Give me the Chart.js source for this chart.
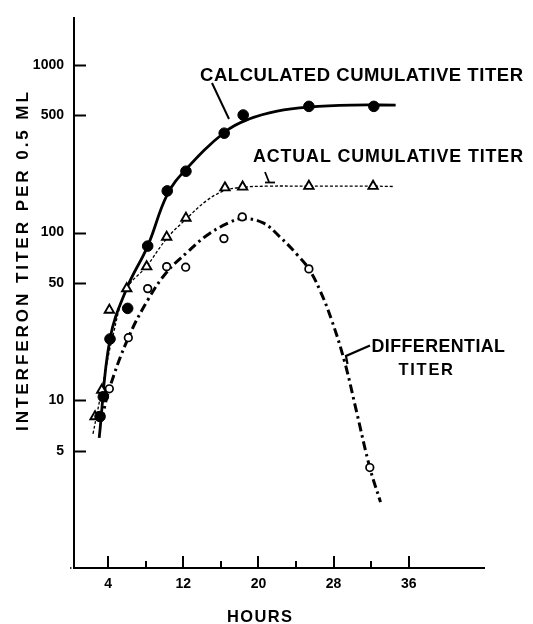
<!DOCTYPE html>
<html>
<head>
<meta charset="utf-8">
<script src="https://cdn.jsdelivr.net/npm/chart.js@4.4.1/dist/chart.umd.min.js"></script>
<style>
  html, body { margin: 0; padding: 0; background: #fff; }
  #wrap { width: 533px; height: 624px; position: relative; }
</style>
</head>
<body>
<div id="wrap"><canvas id="c" width="533" height="624"></canvas></div>
<script>
// ---- Data ----
const calcHours   = [3.15, 3.5, 4.21, 6.09, 8.22, 10.3, 12.29, 16.36, 18.38, 25.37, 32.28];
const calcTiter   = [8.0, 10.5, 23.2, 35.3, 83, 177, 232, 391, 502, 565, 565];
const actualHours = [2.62, 3.33, 4.14, 5.99, 8.11, 10.24, 12.29, 16.44, 18.32, 25.37, 32.2];
const actualTiter = [8.0, 11.5, 34.5, 46.3, 62.6, 94, 122, 185, 187, 189, 189];
const diffHours   = [4.14, 6.16, 8.22, 10.24, 12.26, 16.33, 18.28, 25.37, 31.85];
const diffTiter   = [11.7, 23.6, 46.3, 62.6, 62.1, 92, 124, 60.7, 3.97];

// hand-drawn fitted curves
const calcCurveHours   = [3.06, 4.21, 5.98, 8.22, 10.3, 12.29, 16.5, 19.0, 22.0, 25.4, 30.0, 34.6];
const calcCurveTiter   = [5.96, 23.2, 46.3, 83, 168, 238, 400, 475, 530, 560, 575, 575];
const actualCurveHours = [2.4, 3.33, 4.5, 5.99, 8.11, 10.24, 12.29, 14.5, 16.44, 18.32, 21, 25.37, 32.2, 34.4];
const actualCurveTiter = [6.3, 11.5, 24, 46, 63, 92, 120, 155, 178, 186, 189, 189, 189, 188];
const diffCurveHours   = [3.3, 4.14, 6.16, 8.28, 10.24, 12.4, 14.5, 16.8, 18.28, 20.5, 22.3, 24.1, 25.37, 26.54, 27.78, 29.19, 30.44, 31.85, 32.99];
const diffCurveTiter   = [7.5, 11.7, 23.6, 40, 58, 76, 96, 114, 121, 114, 94, 74, 60.7, 45.3, 30.2, 16.8, 8.55, 3.97, 2.47];

const xMajorTicks = [4, 12, 20, 28, 36];
const xMinorTicks = [8, 16, 24, 32];
const yTicks = [5, 10, 50, 100, 500, 1000];

const xLabel = 'HOURS';
const yLabel = 'INTERFERON TITER PER 0.5 ML';
const calcLabel = 'CALCULATED CUMULATIVE TITER';
const actualLabel = 'ACTUAL CUMULATIVE TITER';
const diffLabel1 = 'DIFFERENTIAL';
const diffLabel2 = 'TITER';

const pts = (xs, ys) => xs.map((x, i) => ({ x: x, y: ys[i] }));
const FONT = '"Liberation Sans", Arial, sans-serif';

// draw text between left/right with cap height capTop..capBottom, spreading letters
function fitText(ctx, text, left, right, capTop, capBottom) {
  const size = (capBottom - capTop) / 0.729;
  ctx.save();
  ctx.font = 'bold ' + size + 'px ' + FONT;
  ctx.textBaseline = 'alphabetic';
  ctx.textAlign = 'left';
  ctx.letterSpacing = '0px';
  const w = ctx.measureText(text).width;
  const n = text.length;
  let ls = (right - left - w) / Math.max(1, n - 1);
  ctx.fillStyle = '#000';
  if (ls >= 0) {
    ctx.letterSpacing = ls + 'px';
    ctx.fillText(text, left, capBottom);
  } else {
    ctx.translate(left, capBottom);
    ctx.scale((right - left) / w, 1);
    ctx.fillText(text, 0, 0);
  }
  ctx.restore();
}

const decor = {
  id: 'decor',
  afterDraw(chart) {
    const ctx = chart.ctx;
    const xs = chart.scales.x, ys = chart.scales.y;
    const ca = chart.chartArea;
    ctx.save();
    ctx.strokeStyle = '#000';
    ctx.lineCap = 'butt';
    // y ticks (inward)
    ctx.lineWidth = 2;
    yTicks.forEach(v => {
      const y = Math.round(ys.getPixelForValue(v)) + 0.5;
      ctx.beginPath(); ctx.moveTo(ca.left, y); ctx.lineTo(ca.left + 12, y); ctx.stroke();
    });
    // x ticks (inward)
    xMajorTicks.forEach(v => {
      const x = Math.round(xs.getPixelForValue(v));
      ctx.beginPath(); ctx.moveTo(x, ca.bottom); ctx.lineTo(x, ca.bottom - 12); ctx.stroke();
    });
    xMinorTicks.forEach(v => {
      const x = Math.round(xs.getPixelForValue(v));
      ctx.beginPath(); ctx.moveTo(x, ca.bottom); ctx.lineTo(x, ca.bottom - 7); ctx.stroke();
    });
    // short stub left of origin
    ctx.lineWidth = 1.5;
    ctx.setLineDash([1.5, 1.5]);
    ctx.beginPath(); ctx.moveTo(ca.left - 4, ca.bottom); ctx.lineTo(ca.left, ca.bottom); ctx.stroke();
    ctx.setLineDash([]);

    // pointer lines
    ctx.lineWidth = 2;
    ctx.beginPath(); ctx.moveTo(212, 83); ctx.lineTo(229, 119); ctx.stroke();
    ctx.lineWidth = 1.8;
    ctx.beginPath(); ctx.moveTo(265, 172); ctx.lineTo(269, 182); ctx.stroke();
    ctx.beginPath(); ctx.moveTo(265, 182.5); ctx.lineTo(275, 182.5); ctx.stroke();
    ctx.lineWidth = 2.2;
    ctx.beginPath(); ctx.moveTo(370, 345.5); ctx.lineTo(346, 356); ctx.lineTo(347.5, 364); ctx.stroke();

    // labels
    fitText(ctx, calcLabel, 200, 523, 67.5, 81);
    fitText(ctx, actualLabel, 253, 523, 148.5, 161.5);
    fitText(ctx, diffLabel1, 371.5, 505, 338.5, 351.5);
    fitText(ctx, diffLabel2, 398.5, 453, 363, 375);
    fitText(ctx, xLabel, 227, 292, 610, 622);
    // y axis title (rotated)
    ctx.save();
    ctx.rotate(-Math.PI / 2);
    fitText(ctx, yLabel, -431, -92, 15, 27.5);
    ctx.restore();
    ctx.restore();
  }
};

new Chart(document.getElementById('c'), {
  type: 'scatter',
  data: {
    datasets: [
      { label: 'calc points', data: pts(calcHours, calcTiter), pointStyle: 'circle', pointRadius: 5.3,
        backgroundColor: '#000', borderColor: '#000', borderWidth: 1, showLine: false, order: 1 },
      { label: 'actual points', data: pts(actualHours, actualTiter), pointStyle: 'triangle', pointRadius: 5.4,
        backgroundColor: '#fff', borderColor: '#000', borderWidth: 1.9, showLine: false, order: 1 },
      { label: 'diff points', data: pts(diffHours, diffTiter), pointStyle: 'circle', pointRadius: 3.8,
        backgroundColor: '#fff', borderColor: '#000', borderWidth: 1.7, showLine: false, order: 1 },
      { type: 'line', label: 'calc curve', data: pts(calcCurveHours, calcCurveTiter), showLine: true,
        pointRadius: 0, borderColor: '#000', borderWidth: 2.8, tension: 0.4, fill: false, order: 2 },
      { type: 'line', label: 'actual curve', data: pts(actualCurveHours, actualCurveTiter), showLine: true,
        pointRadius: 0, borderColor: '#000', borderWidth: 1.3, borderDash: [3, 2], tension: 0.4, fill: false, order: 2 },
      { type: 'line', label: 'diff curve', data: pts(diffCurveHours, diffCurveTiter), showLine: true,
        pointRadius: 0, borderColor: '#000', borderWidth: 3, borderDash: [9, 4, 2.5, 4], tension: 0.4, fill: false, order: 2 }
    ]
  },
  options: {
    responsive: false,
    animation: false,
    devicePixelRatio: 1,
    layout: { padding: { top: 10, right: 49, left: 0, bottom: 0 } },
    plugins: { legend: { display: false }, tooltip: { enabled: false } },
    scales: {
      x: {
        type: 'linear', min: 0.38, max: 44,
        grid: { display: false, drawTicks: false },
        border: { display: true, color: '#000', width: 2 },
        afterBuildTicks: s => { s.ticks = xMajorTicks.map(v => ({ value: v })); },
        afterFit: s => { s.height = 56; },
        ticks: { padding: 8, color: '#000', maxRotation: 0, autoSkip: false,
                 font: { family: FONT, weight: 'bold', size: 14 },
                 callback: v => String(v) }
      },
      y: {
        type: 'logarithmic', min: 1, max: 1890,
        grid: { display: false, drawTicks: false },
        border: { display: true, color: '#000', width: 2 },
        afterBuildTicks: s => { s.ticks = yTicks.map(v => ({ value: v })); },
        afterFit: s => { s.width = 74; },
        ticks: { padding: 10, color: '#000', autoSkip: false,
                 font: { family: FONT, weight: 'bold', size: 14 },
                 callback: v => String(v) }
      }
    }
  },
  plugins: [decor]
});
</script>
</body>
</html>
